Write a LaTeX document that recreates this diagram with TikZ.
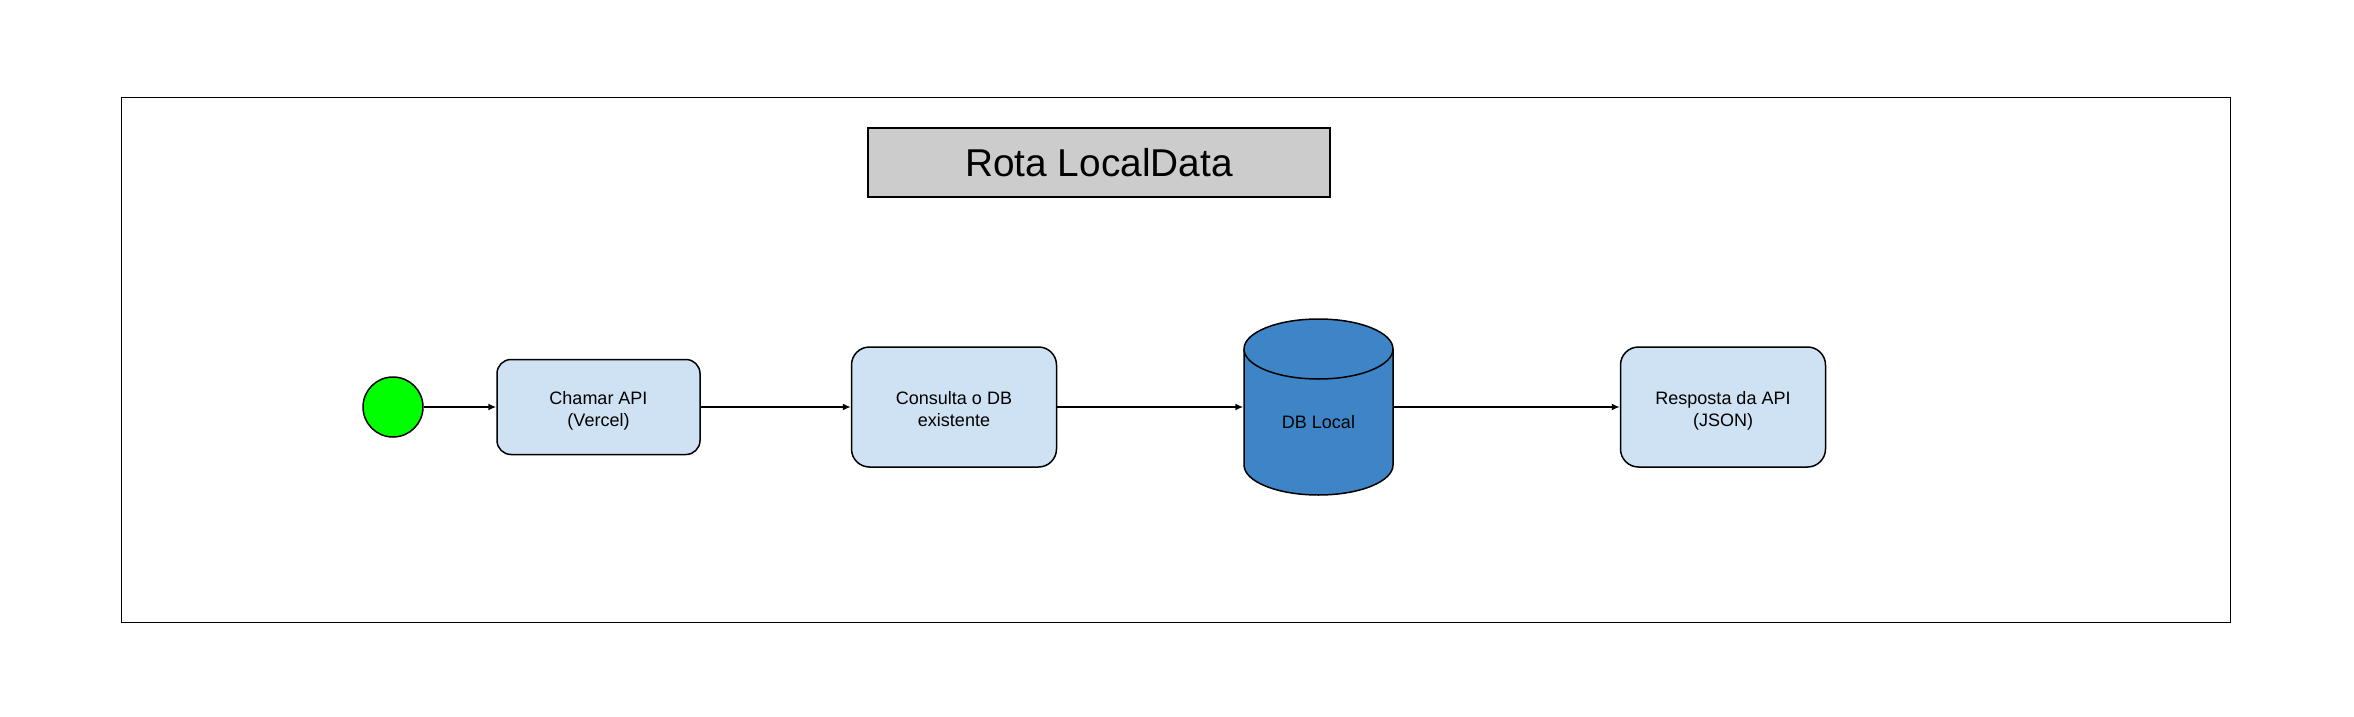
\documentclass[tikz,border=0pt]{standalone}
\usepackage{fontspec}
\setmainfont{Liberation Sans}
\usetikzlibrary{arrows.meta}
\definecolor{azulclaro}{HTML}{CFE2F3}
\definecolor{azulbd}{HTML}{3D85C6}
\definecolor{cinza}{HTML}{CCCCCC}
\definecolor{verde}{HTML}{00FF00}
\begin{document}
\begin{tikzpicture}[x=1pt,y=-1pt,line width=1.5pt,>={Latex[length=8pt,width=7pt]},
        passo/.style={draw,rounded corners=#1,fill=azulclaro,align=center,inner sep=0pt,
            minimum width=205pt,minimum height=120pt,font=\fontsize{18}{22}\selectfont,
            text height=42pt,text depth=4pt},
        passo/.default=18pt,
        db/.style={inner sep=0pt,minimum width=149pt,minimum height=176pt,
            text height=42pt,text depth=0pt,font=\fontsize{18}{22}\selectfont}]
                \useasboundingbox(0,0)rectangle(2354,717);
                \draw(121.5,97.5)rectangle(2230.5,622.5);
                \node[draw,fill=cinza,minimum width=462pt,minimum height=69pt,inner sep=0pt,font=\fontsize{38.8}{44}\selectfont](titulo)at(1099,162.5){Rota LocalData};
                \node[circle,draw,fill=verde,minimum size=60pt,inner sep=0pt](inicio)at(393,407){};
                \node[passo=14pt,minimum width=203pt,minimum height=95pt](chamar)at(598.5,407){Chamar API\\(Vercel)};
                \node[passo](consulta)at(954,407){Consulta o DB\\existente};
                % cilindro do banco local
                \filldraw[fill=azulbd](1244,349)--(1244,465)arc[start angle=180,end angle=0,x radius=74.5,y radius=30]
                    --(1393,349)arc[start angle=0,end angle=-180,x radius=74.5,y radius=30]--cycle;
                \draw(1244,349)arc[start angle=180,end angle=0,x radius=74.5,y radius=30];
                \node[db](local)at(1318.5,407){DB Local};
                \node[passo](resposta)at(1723,407){Resposta da API\\(JSON)};
                \draw[->](inicio)--(chamar);
                \draw[->](chamar)--(consulta);
                \draw[->](consulta)--(local);
                \draw[->](local)--(resposta);
            \end{tikzpicture}
\end{document}
